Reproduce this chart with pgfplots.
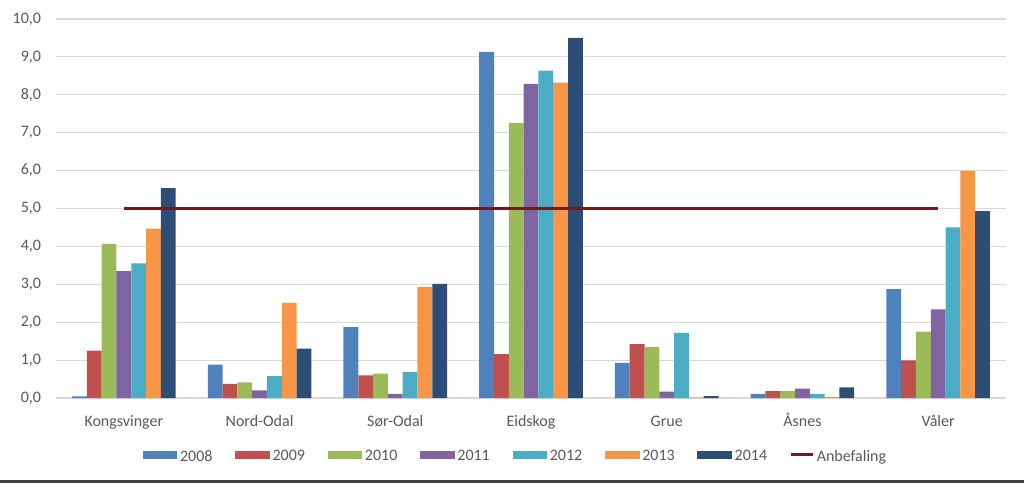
\documentclass[border=0pt]{standalone}
\usepackage{pgfplots}
\pgfplotsset{compat=1.18}
\usepackage{fontspec}
\setmainfont{Carlito}
\definecolor{c2008}{HTML}{4F81BD}
\definecolor{c2009}{HTML}{C0504D}
\definecolor{c2010}{HTML}{9BBB59}
\definecolor{c2011}{HTML}{8064A2}
\definecolor{c2012}{HTML}{4BACC6}
\definecolor{c2013}{HTML}{F79646}
\definecolor{c2014}{HTML}{2C4D75}
\definecolor{anb}{HTML}{701C1C}
\definecolor{txt}{HTML}{595959}
\definecolor{grd}{HTML}{D9D9D9}
\begin{document}
\begin{tikzpicture}
\useasboundingbox (-42pt,-63.75pt) rectangle (726pt,298.5pt);
\fill[black!75] (-42pt,-63.75pt) rectangle (726pt,-61.5pt);
\begin{axis}[
  at={(0,0)}, anchor=south west,
  scale only axis, width=712.5pt, height=284.25pt,
  ybar=0pt, bar width=11.1pt,
  xmin=-0.5, xmax=6.5, ymin=0, ymax=10,
  xtick=data,
  xticklabels={Kongsvinger,Nord-Odal,Sør-Odal,Eidskog,Grue,Åsnes,Våler},
  ytick={0,1,...,10},
  major tick length=0pt,
  axis x line*=bottom, axis y line*=left,
  x axis line style={grd, line width=0.8pt, -},
  y axis line style={draw=none},
  ymajorgrids, grid style={grd, line width=0.8pt},
  tick label style={font=\fontsize{12}{14}\selectfont, text=txt},
  yticklabel style={anchor=east, inner sep=0pt, xshift=-11pt},
  xticklabel style={anchor=base, inner sep=0pt, yshift=-21pt},
  /pgf/number format/.cd, fixed, fixed zerofill, precision=1, use comma, assume math mode=true,
  /pgfplots/.cd,
  legend style={at={(0.484,-0.155)}, anchor=center, draw=none, fill=none,
    font=\fontsize{12}{14}\selectfont, text=txt,
    legend columns=8,
    /tikz/every even column/.append style={column sep=15pt},
    inner sep=0pt},
  legend image code/.code={\fill[#1] (0pt,-1.5pt) rectangle (26pt,4.5pt);},
  every axis plot/.append style={draw=none},
  clip=false,
]
\addplot[fill=c2008] coordinates {(0,0.04) (1,0.88) (2,1.87) (3,9.13) (4,0.93) (5,0.11) (6,2.87)};
\addplot[fill=c2009] coordinates {(0,1.25) (1,0.37) (2,0.60) (3,1.16) (4,1.42) (5,0.18) (6,0.99)};
\addplot[fill=c2010] coordinates {(0,4.07) (1,0.41) (2,0.64) (3,7.25) (4,1.34) (5,0.18) (6,1.75)};
\addplot[fill=c2011] coordinates {(0,3.35) (1,0.20) (2,0.11) (3,8.29) (4,0.17) (5,0.25) (6,2.34)};
\addplot[fill=c2012] coordinates {(0,3.55) (1,0.58) (2,0.69) (3,8.64) (4,1.72) (5,0.11) (6,4.50)};
\addplot[fill=c2013] coordinates {(0,4.47) (1,2.51) (2,2.93) (3,8.32) (4,0.01) (5,0.02) (6,5.99)};
\addplot[fill=c2014] coordinates {(0,5.54) (1,1.30) (2,3.01) (3,9.50) (4,0.05) (5,0.28) (6,4.93)};
\addplot[sharp plot, draw=anb, line width=2.2pt,
  legend image code/.code={\draw[anb, line width=2.2pt] (0pt,1.5pt) -- (16pt,1.5pt);}]
  coordinates {(0,5) (6,5)};
\legend{2008,2009,2010,2011,2012,2013,2014,Anbefaling}
\end{axis}
\end{tikzpicture}
\end{document}
